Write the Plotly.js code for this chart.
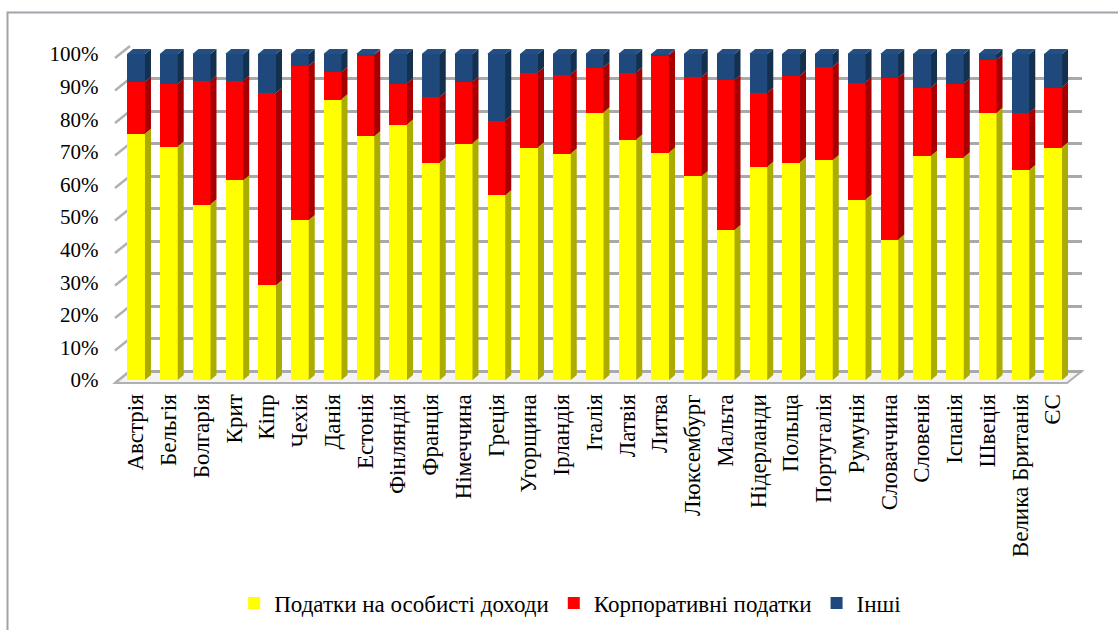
<!DOCTYPE html>
<html>
<head>
<meta charset="utf-8">
<script src="https://cdn.plot.ly/plotly-3.0.1.min.js"></script>
<style>
  html, body { margin: 0; padding: 0; background: #fff; overflow: hidden; }
  #chart { width: 1118px; height: 630px; }
</style>
</head>
<body>
<div id="chart"></div>
<script>
// Структура податкових надходжень за країнами ЄС, % від загальної суми
const countries = [
  'Австрія', 'Бельгія', 'Болгарія', 'Крит', 'Кіпр', 'Чехія', 'Данія', 'Естонія',
  'Фінляндія', 'Франція', 'Німеччина', 'Греція', 'Угорщина', 'Ірландія', 'Італія',
  'Латвія', 'Литва', 'Люксембург', 'Мальта', 'Нідерланди', 'Польща', 'Португалія',
  'Румунія', 'Словаччина', 'Словенія', 'Іспанія', 'Швеція', 'Велика Британія', 'ЄС'
];
const personalIncomeTax = [
  75.5, 71.6, 53.9, 61.3, 29.1, 49.1, 86.1, 74.8,
  78.4, 66.7, 72.6, 56.7, 71.4, 69.5, 82.1,
  73.8, 69.8, 62.6, 46.0, 65.4, 66.8, 67.5,
  55.4, 43.1, 68.8, 68.3, 82.0, 64.4, 71.4
];
const corporateTax = [
  16.0, 19.2, 37.9, 30.5, 59.0, 47.2, 8.4, 24.9,
  12.6, 20.2, 18.9, 22.9, 23.0, 24.3, 13.8,
  20.6, 29.9, 30.4, 46.0, 22.7, 26.6, 28.6,
  35.9, 49.6, 20.9, 22.7, 16.2, 17.6, 18.4
];
const otherTax = [
  8.5, 9.2, 8.2, 8.2, 11.9, 3.7, 5.5, 0.3,
  9.0, 13.1, 8.5, 20.4, 5.6, 6.2, 4.1,
  5.6, 0.3, 7.0, 8.0, 11.9, 6.6, 3.9,
  8.7, 7.3, 10.3, 9.0, 1.8, 18.0, 10.2
];
const seriesNames = ['Податки на особисті доходи', 'Корпоративні податки', 'Інші'];
const yTickValues = [0, 10, 20, 30, 40, 50, 60, 70, 80, 90, 100];
const yTickLabels = ['0%', '10%', '20%', '30%', '40%', '50%', '60%', '70%', '80%', '90%', '100%'];

// Кольори: передня грань, бічна грань, верхня грань
const frontColors = ['#ffff00', '#ff0000', '#1f497d'];
const sideColors  = ['#acac00', '#a80000', '#13304f'];
const topColors   = ['#e0e000', '#d80000', '#244f85'];

const W = 1118, H = 630;
const px = v => v / W;          // пікселі -> paper (x)
const py = v => 1 - v / H;      // пікселі -> paper (y)

// Геометрія псевдо-3D
const barLeftPx = 119.6, barRightPx = 1069.4;  // область стовпців
const barZeroPx = 380, pxPerPct = 3.26;
const barTopRange = 105;
const unitPx = (barRightPx - barLeftPx) / countries.length;
const barWidth = 0.55;
const depthDx = 6 / unitPx;       // зсув глибини стовпця, одиниці осі x
const depthDy = 5 / pxPerPct;     // зсув глибини стовпця, одиниці осі y

const wallLeft = 130, wallRight = 1082, wallZero = 371, wallTop = 46;
const frontLeft = 115, frontRight = 1067, frontZero = 383;
const wallStep = (wallZero - wallTop) / 100;

const serif = "'Liberation Serif', 'Times New Roman', serif";
const idx = countries.map((_, i) => i);
const series = [personalIncomeTax, corporateTax, otherTax];

const traces = [
  // порожня серія для задньої стінки з лініями сітки
  { x: [], y: [], type: 'scatter', mode: 'lines', xaxis: 'x', yaxis: 'y',
    showlegend: false, hoverinfo: 'skip' }
];
series.forEach((vals, s) => {
  traces.push({
    type: 'bar', name: seriesNames[s], x: idx, y: vals,
    xaxis: 'x2', yaxis: 'y2', width: barWidth,
    marker: { color: frontColors[s], line: { width: 0 } },
    customdata: countries,
    textposition: 'none',
    hovertemplate: '%{customdata}: %{y:.1f}%<extra>' + seriesNames[s] + '</extra>'
  });
});

const shapes = [];

// рамка області діаграми
shapes.push({ type: 'rect', xref: 'paper', yref: 'paper', layer: 'below',
  x0: px(7.5), y0: py(12.5), x1: 1.2, y1: -0.2,
  line: { color: '#a3a3ab', width: 2 }, fillcolor: 'rgba(0,0,0,0)' });

// підлога
shapes.push({ type: 'path', xref: 'paper', yref: 'paper', layer: 'below',
  path: `M ${px(frontLeft)},${py(frontZero)} L ${px(frontRight)},${py(frontZero)} ` +
        `L ${px(wallRight)},${py(wallZero)} L ${px(wallLeft)},${py(wallZero)} Z`,
  fillcolor: '#f3f3f3', line: { color: '#b0b0b0', width: 2 } });

// похилі лінії бічної стінки
yTickValues.forEach(v => {
  shapes.push({ type: 'line', xref: 'paper', yref: 'paper', layer: 'below',
    x0: px(frontLeft), y0: py(frontZero - v * wallStep),
    x1: px(wallLeft), y1: py(wallZero - v * wallStep),
    line: { color: '#b0b0b0', width: 2.5 } });
});

// бічні та верхні грані стовпців
idx.forEach(i => {
  const total = series.reduce((a, vals) => a + vals[i], 0);
  let base = 0;
  const xl = i - barWidth / 2, xr = i + barWidth / 2;
  series.forEach((vals, s) => {
    const h = vals[i] / total * 100;
    const y0 = base, y1 = base + h;
    shapes.push({ type: 'path', xref: 'x2', yref: 'y2', layer: 'above',
      path: `M ${xr},${y0} L ${xr + depthDx},${y0 + depthDy} L ${xr + depthDx},${y1 + depthDy} L ${xr},${y1} Z`,
      fillcolor: sideColors[s], line: { width: 0 } });
    if (s === series.length - 1) {
      shapes.push({ type: 'path', xref: 'x2', yref: 'y2', layer: 'above',
        path: `M ${xl},${y1} L ${xl + depthDx},${y1 + depthDy} L ${xr + depthDx},${y1 + depthDy} L ${xr},${y1} Z`,
        fillcolor: topColors[s], line: { width: 0 } });
    }
    base = y1;
  });
});

const layout = {
  width: W, height: H, autosize: false,
  margin: { l: 0, r: 0, t: 0, b: 0, pad: 0 },
  paper_bgcolor: '#ffffff', plot_bgcolor: 'rgba(0,0,0,0)',
  font: { family: serif, size: 22, color: '#000000' },
  barmode: 'stack', barnorm: 'percent', bargap: 0,
  showlegend: true,
  legend: {
    orientation: 'h', x: 0.51, xanchor: 'center', y: py(603), yanchor: 'middle',
    font: { family: serif, size: 23, color: '#000000' },
    bgcolor: 'rgba(0,0,0,0)', traceorder: 'normal'
  },
  // задня стінка
  xaxis: { domain: [px(wallLeft), px(wallRight)], range: [0, 1], anchor: 'y',
    showgrid: false, zeroline: false, showline: false, showticklabels: false, ticks: '' },
  yaxis: { domain: [py(wallZero), py(wallTop)], range: [0, 100], anchor: 'x',
    tickmode: 'linear', tick0: 0, dtick: 10,
    showgrid: true, gridcolor: '#a9a9a9', gridwidth: 2.5,
    zeroline: true, zerolinecolor: '#a9a9a9', zerolinewidth: 2.5,
    showline: false, showticklabels: false, ticks: '' },
  // стовпці
  xaxis2: { domain: [px(barLeftPx), px(barRightPx)], range: [-0.5, countries.length - 0.5],
    anchor: 'y2', tickmode: 'array', tickvals: idx, ticktext: countries,
    tickangle: -90, ticks: 'outside', ticklen: 4, tickcolor: 'rgba(0,0,0,0)',
    showgrid: false, zeroline: false, showline: false,
    tickfont: { family: serif, size: 23, color: '#000000' } },
  yaxis2: { domain: [py(barZeroPx), py(barZeroPx - barTopRange * pxPerPct)],
    range: [0, barTopRange], anchor: 'x2',
    tickmode: 'array', tickvals: yTickValues, ticktext: yTickLabels,
    ticks: 'outside', ticklen: 16, tickcolor: 'rgba(0,0,0,0)',
    showgrid: false, zeroline: false, showline: false,
    tickfont: { family: serif, size: 21, color: '#000000' } },
  shapes: shapes
};

Plotly.newPlot('chart', traces, layout, { displayModeBar: false, responsive: false });
</script>
</body>
</html>
